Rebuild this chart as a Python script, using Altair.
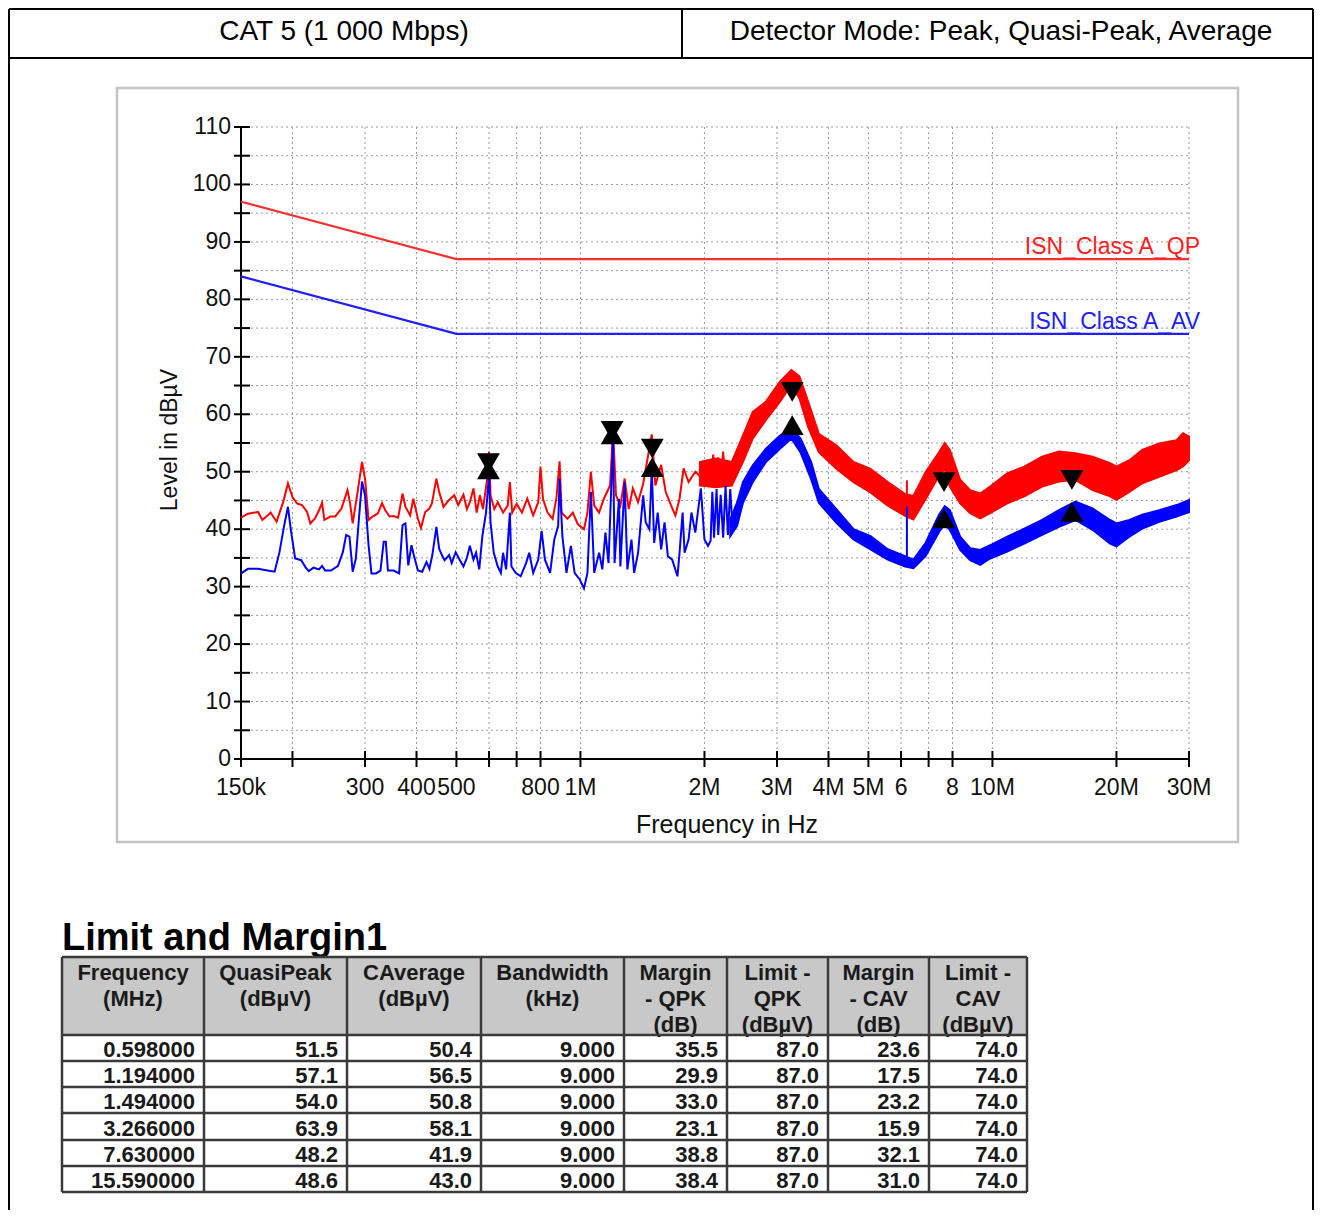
import altair as alt
import pandas as pd

# ---------------- data ----------------
# spiky part of the peak (red) trace, frequency in MHz, level in dBµV
red_f = [0.150, 0.156, 0.165, 0.169, 0.174, 0.177, 0.183, 0.190, 0.195, 0.200, 0.205, 0.211, 0.217, 0.221,
         0.227, 0.232, 0.236, 0.239, 0.247, 0.254, 0.263, 0.272, 0.276, 0.280, 0.287, 0.295, 0.300, 0.306,
         0.313, 0.322, 0.330, 0.336, 0.344, 0.352, 0.361, 0.370, 0.376, 0.386, 0.393, 0.403, 0.410, 0.420,
         0.430, 0.436, 0.447, 0.454, 0.465, 0.480, 0.494, 0.505, 0.520, 0.530, 0.539, 0.550, 0.560, 0.570,
         0.580, 0.593, 0.600, 0.605, 0.618, 0.630, 0.649, 0.666, 0.674, 0.683, 0.700, 0.721, 0.743, 0.768,
         0.790, 0.800, 0.811, 0.832, 0.856, 0.874, 0.890, 0.900, 0.930, 0.958, 0.985, 1.02, 1.04, 1.06,
         1.08, 1.11, 1.14, 1.18, 1.20, 1.22, 1.25, 1.28, 1.31, 1.34, 1.38, 1.42, 1.49, 1.52, 1.57, 1.61,
         1.66, 1.70, 1.74, 1.78, 1.83, 1.90, 1.98, 2.04, 2.07, 2.10, 2.13, 2.16, 2.19, 2.22, 2.25, 2.28,
         2.31, 2.34, 2.40]
red_db = [42.0, 42.7, 43.0, 41.6, 42.4, 42.9, 41.3, 44.8, 48.0, 45.6, 44.5, 44.2, 43.0, 41.0,
          41.9, 43.3, 44.6, 41.6, 42.2, 42.2, 43.6, 46.8, 44.5, 41.0, 45.9, 51.7, 48.8, 41.6,
          42.2, 42.7, 44.5, 43.3, 42.2, 42.3, 42.0, 46.2, 43.9, 42.4, 45.3, 41.9, 40.2, 43.0,
          43.6, 44.5, 48.8, 46.5, 43.9, 45.1, 45.9, 44.2, 46.0, 43.5, 44.7, 47.1, 42.9, 45.9,
          43.5, 48.5, 53.5, 45.9, 43.5, 44.7, 42.9, 44.1, 48.2, 42.9, 44.4, 42.9, 45.3, 42.4,
          44.7, 50.9, 45.3, 42.9, 41.8, 45.3, 51.8, 42.9, 41.8, 42.9, 40.9, 40.0, 42.9, 50.0,
          44.1, 42.9, 45.3, 47.6, 57.1, 45.9, 44.1, 48.8, 43.5, 47.1, 44.7, 47.9, 56.5, 47.6, 51.2, 46.5,
          44.1, 42.4, 45.3, 50.6, 48.2, 50.0, 48.8, 50.6, 47.5, 53.0, 48.0, 52.5, 47.8, 53.5, 48.0, 52.0,
          47.5, 51.0, 50.5]

# spiky part of the average (blue) trace
blue_f = [0.150, 0.156, 0.165, 0.174, 0.181, 0.186, 0.191, 0.195, 0.198, 0.203, 0.210, 0.215, 0.219, 0.225,
          0.232, 0.236, 0.240, 0.248, 0.258, 0.265, 0.270, 0.275, 0.280, 0.285, 0.290, 0.295, 0.300, 0.306,
          0.311, 0.319, 0.327, 0.333, 0.337, 0.341, 0.352, 0.363, 0.370, 0.376, 0.382, 0.389, 0.394, 0.403,
          0.413, 0.423, 0.430, 0.437, 0.447, 0.454, 0.461, 0.468, 0.480, 0.487, 0.498, 0.507, 0.520, 0.530,
          0.539, 0.550, 0.558, 0.568, 0.578, 0.590, 0.600, 0.605, 0.616, 0.630, 0.641, 0.649, 0.660, 0.674,
          0.680, 0.696, 0.716, 0.738, 0.751, 0.768, 0.790, 0.805, 0.820, 0.844, 0.864, 0.883, 0.890, 0.904,
          0.925, 0.948, 0.968, 0.997, 1.02, 1.04, 1.06, 1.08, 1.11, 1.13, 1.15, 1.17, 1.20, 1.21, 1.24,
          1.25, 1.28, 1.30, 1.33, 1.35, 1.38, 1.42, 1.44, 1.47, 1.49, 1.51, 1.54, 1.57, 1.60, 1.63, 1.67,
          1.72, 1.74, 1.77, 1.79, 1.83, 1.86, 1.90, 1.96, 2.00, 2.04, 2.07, 2.09, 2.11, 2.14, 2.16, 2.19,
          2.22, 2.25, 2.28, 2.31, 2.34, 2.38]
blue_db = [32.3, 33.1, 33.1, 32.8, 32.6, 36.0, 40.7, 43.9, 40.1, 34.9, 34.6, 33.4, 32.7, 33.3,
           33.0, 33.6, 32.8, 32.8, 33.6, 36.0, 39.0, 38.7, 32.6, 34.9, 41.9, 48.3, 45.9, 37.2,
           32.3, 32.3, 32.8, 37.8, 37.8, 32.8, 32.8, 32.3, 40.7, 41.0, 33.7, 37.2, 35.5, 32.8,
           32.6, 34.3, 33.1, 35.5, 40.4, 36.6, 35.5, 34.6, 35.5, 34.1, 36.0, 34.9, 33.5, 35.0,
           37.1, 34.7, 35.9, 33.0, 38.8, 42.9, 49.5, 41.2, 35.9, 33.5, 32.4, 35.9, 33.0, 42.9,
           33.5, 32.4, 31.8, 34.1, 35.9, 32.4, 34.7, 39.7, 34.7, 32.4, 38.2, 40.6, 48.8, 38.8,
           32.4, 37.1, 32.4, 31.2, 29.7, 32.4, 46.5, 32.4, 35.9, 33.0, 39.4, 34.1, 56.2, 34.1, 45.3,
           33.5, 48.2, 33.0, 38.2, 32.4, 35.9, 45.9, 41.2, 40.0, 50.6, 37.6, 42.9, 36.5, 41.2, 35.3, 34.7,
           31.8, 35.9, 42.9, 35.9, 38.2, 42.9, 39.4, 47.1, 38.2, 37.1, 38.0, 46.5, 38.5, 47.0, 39.0, 46.0,
           38.5, 47.5, 39.0, 47.0, 40.0, 44.0]

# dense (noise band) part of the traces: lower and upper edge of the band
redband_f = [1.95, 2.13, 2.33, 2.48, 2.62, 2.82, 3.05, 3.25, 3.40, 3.57, 3.79, 4.18, 4.60, 5.06, 5.57,
             6.14, 6.43, 6.88, 7.42, 7.66, 7.88, 8.35, 8.83, 9.34, 9.87, 10.86, 11.95, 13.2, 14.5,
             15.9, 17.5, 19.3, 20.0, 21.5, 23.1, 25.4, 28.0, 29.0, 30.0]
redband_lo = [47.6, 47.3, 47.6, 51.7, 55.8, 59.0, 62.2, 65.1, 62.8, 57.8, 53.4, 50.5, 48.2, 46.4, 44.1,
              42.3, 41.7, 45.2, 49.3, 50.5, 47.4, 44.5, 42.8, 41.9, 42.8, 44.5, 45.7, 47.4, 48.3,
              48.6, 46.8, 45.7, 45.1, 46.5, 48.0, 49.1, 50.3, 50.9, 52.0]
redband_hi = [51.7, 52.3, 51.7, 56.3, 60.4, 62.2, 65.7, 67.7, 66.6, 62.2, 56.6, 54.6, 51.7, 50.5, 48.2,
              46.1, 45.8, 49.9, 53.4, 55.0, 53.8, 48.6, 46.8, 46.2, 47.4, 49.7, 50.9, 52.6, 53.5,
              53.2, 52.6, 51.5, 50.9, 52.0, 53.8, 54.9, 55.5, 56.7, 56.1]

blueband_f = [2.31, 2.40, 2.48, 2.62, 2.82, 3.05, 3.25, 3.42, 3.63, 3.79, 4.18, 4.60, 5.06, 5.57, 6.14,
              6.43, 6.88, 7.42, 7.66, 7.88, 8.35, 8.83, 9.34, 9.87, 10.86, 11.95, 13.2, 14.5, 15.9,
              17.5, 19.3, 20.0, 21.5, 23.1, 25.4, 28.0, 30.0]
blueband_lo = [38.8, 40.6, 44.6, 48.2, 51.7, 54.0, 55.8, 53.4, 48.7, 44.6, 41.1, 38.2, 36.5, 34.7, 33.5,
               33.2, 35.3, 39.5, 41.0, 39.9, 36.4, 34.6, 33.8, 34.9, 36.1, 37.5, 39.0, 40.4, 41.6,
               39.9, 37.5, 37.0, 38.7, 40.1, 41.3, 42.2, 43.0]
blueband_hi = [41.7, 44.6, 48.2, 51.1, 54.0, 56.3, 57.5, 55.8, 51.7, 47.0, 43.5, 40.0, 38.8, 36.5, 35.3,
               34.7, 37.6, 42.5, 44.0, 43.3, 38.7, 36.7, 36.4, 37.2, 38.7, 40.1, 41.6, 43.3, 44.8,
               43.6, 41.6, 41.0, 41.6, 42.5, 43.3, 44.2, 45.1]

# single spike near 6.2 MHz
spike_f = [6.2]
spike_red_lo = [43.0]
spike_red_hi = [48.5]
spike_blue_lo = [34.0]
spike_blue_hi = [44.0]

# limit lines
limit_f = [0.15, 0.5, 30]
limit_qp = [97, 87, 87]
limit_av = [84, 74, 74]
limit_names = ["ISN_Class A_QP", "ISN_Class A_AV"]

# final measurement (table + markers)
meas_freq = [0.598, 1.194, 1.494, 3.266, 7.63, 15.59]
meas_qp = [51.5, 57.1, 54.0, 63.9, 48.2, 48.6]
meas_cav = [50.4, 56.5, 50.8, 58.1, 41.9, 43.0]
meas_bw = [9.0, 9.0, 9.0, 9.0, 9.0, 9.0]
margin_qpk = [35.5, 29.9, 33.0, 23.1, 38.8, 38.4]
limit_qpk = [87.0, 87.0, 87.0, 87.0, 87.0, 87.0]
margin_cav = [23.6, 17.5, 23.2, 15.9, 32.1, 31.0]
limit_cav = [74.0, 74.0, 74.0, 74.0, 74.0, 74.0]

table_headers = ["Frequency\n(MHz)", "QuasiPeak\n(dBµV)", "CAverage\n(dBµV)", "Bandwidth\n(kHz)",
                 "Margin\n- QPK\n(dB)", "Limit -\nQPK\n(dBµV)", "Margin\n- CAV\n(dB)", "Limit -\nCAV\n(dBµV)"]
table_title = "Limit and Margin1"

# axes
grid_f = [0.2, 0.3, 0.4, 0.5, 0.6, 0.7, 0.8, 1, 2, 3, 4, 5, 6, 7, 8, 10, 20, 30]
grid_db = [5, 10, 15, 20, 25, 30, 35, 40, 45, 50, 55, 60, 65, 70, 75, 80, 85, 90, 95, 100, 105, 110]
xtick_f = [0.15, 0.2, 0.3, 0.4, 0.5, 0.6, 0.7, 0.8, 1, 2, 3, 4, 5, 6, 7, 8, 10, 20, 30]
xlabel_f = [0.15, 0.3, 0.4, 0.5, 0.8, 1, 2, 3, 4, 5, 6, 8, 10, 20, 30]
xlabel_txt = ["150k", "300", "400", "500", "800", "1M", "2M", "3M", "4M", "5M", "6", "8", "10M", "20M", "30M"]
ytick_db = [0, 5, 10, 15, 20, 25, 30, 35, 40, 45, 50, 55, 60, 65, 70, 75, 80, 85, 90, 95, 100, 105, 110]
ylabel_db = [0, 10, 20, 30, 40, 50, 60, 70, 80, 90, 100, 110]
x_title = "Frequency in Hz"
y_title = "Level in dBµV"
header_left = "CAT 5 (1 000 Mbps)"
header_right = "Detector Mode: Peak, Quasi-Peak, Average"

# ---------------- layout (pixels) ----------------
W, H = 1306, 1202
FONT = "Liberation Sans"
RED = "#ff0000"
BLUE = "#0000ff"
XS = alt.Scale(type="log", domain=[0.15, 30], range=[233, 1181], nice=False)
YS = alt.Scale(type="linear", domain=[0, 110], range=[751, 119], nice=False, zero=False)
col_edges = [54, 196, 339, 473, 616, 719, 820, 921, 1019]
row_edges = [949, 1027, 1053, 1079, 1105, 1132, 1158, 1184]
ROWS = alt.Scale(type="linear", domain=[0, 5], range=[1042, 1173], nice=False, zero=False)


def fx(field):
    return alt.X(f"{field}:Q", scale=XS, axis=None)


def fy(field):
    return alt.Y(f"{field}:Q", scale=YS, axis=None)


def px(field):
    return alt.X(f"{field}:Q", scale=None, axis=None)


def py(field):
    return alt.Y(f"{field}:Q", scale=None, axis=None)


one = pd.DataFrame({"a": [0]})
layers = []

# outer page box and header row
box = pd.DataFrame({"x": [1, 1, 1305, 1, 674], "x2": [1305, 1, 1305, 1305, 674],
                    "y": [1, 1, 1, 50, 1], "y2": [1, 1202, 1202, 50, 50]})
layers.append(alt.Chart(box).mark_rule(color="black", strokeWidth=2).encode(
    x=px("x"), x2="x2", y=py("y"), y2="y2"))
layers.append(alt.Chart(pd.DataFrame({"t": [header_left]})).mark_text(
    font=FONT, fontSize=28, color="black", align="center", baseline="middle").encode(
    x=alt.value(336), y=alt.value(24), text="t:N"))
layers.append(alt.Chart(pd.DataFrame({"t": [header_right]})).mark_text(
    font=FONT, fontSize=28, color="black", align="center", baseline="middle").encode(
    x=alt.value(993), y=alt.value(24), text="t:N"))

# chart frame
layers.append(alt.Chart(one).mark_rect(fill="white", stroke="#c4c4c4", strokeWidth=2.5).encode(
    x=alt.value(109), x2=alt.value(1230), y=alt.value(80), y2=alt.value(834)))

# grid
gv = pd.DataFrame({"f": grid_f, "lo": [0] * len(grid_f), "hi": [110] * len(grid_f)})
layers.append(alt.Chart(gv).mark_rule(color="#9a9a9a", strokeDash=[2, 3], strokeWidth=1).encode(
    x=fx("f"), y=fy("lo"), y2="hi:Q"))
gh = pd.DataFrame({"db": grid_db, "f0": [0.15] * len(grid_db), "f1": [30] * len(grid_db)})
layers.append(alt.Chart(gh).mark_rule(color="#9a9a9a", strokeDash=[2, 3], strokeWidth=1).encode(
    y=fy("db"), x=fx("f0"), x2="f1:Q"))

# axes lines, ticks, labels
layers.append(alt.Chart(pd.DataFrame({"f": [0.15], "lo": [0], "hi": [110]})).mark_rule(
    color="black", strokeWidth=2).encode(x=fx("f"), y=fy("lo"), y2="hi:Q"))
layers.append(alt.Chart(pd.DataFrame({"db": [0], "f0": [0.15], "f1": [30]})).mark_rule(
    color="black", strokeWidth=2).encode(y=fy("db"), x=fx("f0"), x2="f1:Q"))
layers.append(alt.Chart(pd.DataFrame({"db": ytick_db})).mark_rule(color="black", strokeWidth=2).encode(
    y=fy("db"), x=alt.value(226), x2=alt.value(242)))
layers.append(alt.Chart(pd.DataFrame({"f": xtick_f})).mark_rule(color="black", strokeWidth=2).encode(
    x=fx("f"), y=alt.value(743), y2=alt.value(759)))
layers.append(alt.Chart(pd.DataFrame({"db": ylabel_db})).mark_text(
    font=FONT, fontSize=23, color="#111111", align="right", baseline="middle").encode(
    y=fy("db"), x=alt.value(223), text=alt.Text("db:Q")))
layers.append(alt.Chart(pd.DataFrame({"f": xlabel_f, "t": xlabel_txt})).mark_text(
    font=FONT, fontSize=23, color="#111111", align="center", baseline="middle").encode(
    x=fx("f"), y=alt.value(780), text="t:N"))
layers.append(alt.Chart(pd.DataFrame({"t": [x_title]})).mark_text(
    font=FONT, fontSize=25, color="#111111", align="center", baseline="middle").encode(
    x=alt.value(719), y=alt.value(817), text="t:N"))
layers.append(alt.Chart(pd.DataFrame({"t": [y_title]})).mark_text(
    font=FONT, fontSize=23, color="#111111", align="center", baseline="middle", angle=270).encode(
    x=alt.value(162), y=alt.value(432), text="t:N"))

# limit lines
lim = pd.DataFrame({"f": limit_f, "qp": limit_qp, "av": limit_av})
layers.append(alt.Chart(lim).mark_line(color="#ff3030", strokeWidth=2.2).encode(x=fx("f"), y=fy("qp")))
layers.append(alt.Chart(lim).mark_line(color="#2020ff", strokeWidth=2.2).encode(x=fx("f"), y=fy("av")))
layers.append(alt.Chart(pd.DataFrame({"f": [30], "db": [limit_qp[-1]], "t": [limit_names[0]]})).mark_text(
    font=FONT, fontSize=23, color="#ff2020", align="right", baseline="alphabetic", dx=11, dy=-5).encode(
    x=fx("f"), y=fy("db"), text="t:N"))
layers.append(alt.Chart(pd.DataFrame({"f": [30], "db": [limit_av[-1]], "t": [limit_names[1]]})).mark_text(
    font=FONT, fontSize=23, color="#2020ff", align="right", baseline="alphabetic", dx=11, dy=-5).encode(
    x=fx("f"), y=fy("db"), text="t:N"))

# traces: red below blue
layers.append(alt.Chart(pd.DataFrame({"f": redband_f, "lo": redband_lo, "hi": redband_hi})).mark_area(
    color=RED, opacity=1, stroke=RED, strokeWidth=2).encode(x=fx("f"), y=fy("lo"), y2="hi:Q"))
layers.append(alt.Chart(pd.DataFrame({"f": red_f, "db": red_db})).mark_line(
    color=RED, strokeWidth=2).encode(x=fx("f"), y=fy("db")))
layers.append(alt.Chart(pd.DataFrame({"f": spike_f, "lo": spike_red_lo, "hi": spike_red_hi})).mark_rule(
    color=RED, strokeWidth=2).encode(x=fx("f"), y=fy("lo"), y2="hi:Q"))
layers.append(alt.Chart(pd.DataFrame({"f": blueband_f, "lo": blueband_lo, "hi": blueband_hi})).mark_area(
    color=BLUE, opacity=1, stroke=BLUE, strokeWidth=2).encode(x=fx("f"), y=fy("lo"), y2="hi:Q"))
layers.append(alt.Chart(pd.DataFrame({"f": blue_f, "db": blue_db})).mark_line(
    color=BLUE, strokeWidth=2).encode(x=fx("f"), y=fy("db")))
layers.append(alt.Chart(pd.DataFrame({"f": spike_f, "lo": spike_blue_lo, "hi": spike_blue_hi})).mark_rule(
    color=BLUE, strokeWidth=2).encode(x=fx("f"), y=fy("lo"), y2="hi:Q"))

# markers
mk = pd.DataFrame({"f": meas_freq, "qp": meas_qp, "av": meas_cav})
layers.append(alt.Chart(mk).mark_point(shape="triangle-down", filled=True, size=520, color="black",
                                       opacity=1).encode(x=fx("f"), y=fy("qp")))
layers.append(alt.Chart(mk).mark_point(shape="triangle-up", filled=True, size=520, color="black",
                                       opacity=1).encode(x=fx("f"), y=fy("av")))

# ---------------- table ----------------
layers.append(alt.Chart(pd.DataFrame({"t": [table_title]})).mark_text(
    font=FONT, fontSize=38, fontWeight="bold", color="black", align="left", baseline="alphabetic").encode(
    x=alt.value(54), y=alt.value(942), text="t:N"))
layers.append(alt.Chart(one).mark_rect(fill="#c8c8c8").encode(
    x=alt.value(col_edges[0]), x2=alt.value(col_edges[-1]), y=alt.value(row_edges[0]), y2=alt.value(row_edges[1])))
hdr = pd.DataFrame({"t": table_headers,
                    "x": [(a + b) / 2 for a, b in zip(col_edges[:-1], col_edges[1:])]})
layers.append(alt.Chart(hdr).mark_text(
    font=FONT, fontSize=22, fontWeight="bold", color="#1a1a1a", align="center", baseline="alphabetic",
    lineBreak="\n", lineHeight=26).encode(x=px("x"), y=alt.value(972), text="t:N"))

tbl = pd.DataFrame({"row": list(range(6)), "freq": meas_freq, "qp": meas_qp, "cav": meas_cav,
                    "bw": meas_bw, "mq": margin_qpk, "lq": limit_qpk, "mc": margin_cav, "lc": limit_cav})
cols = [("freq", ".6f"), ("qp", ".1f"), ("cav", ".1f"), ("bw", ".3f"),
        ("mq", ".1f"), ("lq", ".1f"), ("mc", ".1f"), ("lc", ".1f")]
for i, (c, fmt) in enumerate(cols):
    layers.append(alt.Chart(tbl).mark_text(
        font=FONT, fontSize=22, fontWeight="bold", color="#1a1a1a", align="right", baseline="middle").encode(
        x=alt.value(col_edges[i + 1] - 9), y=alt.Y("row:Q", scale=ROWS, axis=None),
        text=alt.Text(f"{c}:Q", format=fmt)))

hl = pd.DataFrame({"y": row_edges, "x": [col_edges[0]] * len(row_edges), "x2": [col_edges[-1]] * len(row_edges)})
layers.append(alt.Chart(hl).mark_rule(color="#3a3a3a", strokeWidth=2.5).encode(y=py("y"), x=px("x"), x2="x2:Q"))
vl = pd.DataFrame({"x": col_edges, "y": [row_edges[0]] * len(col_edges), "y2": [row_edges[-1]] * len(col_edges)})
layers.append(alt.Chart(vl).mark_rule(color="#3a3a3a", strokeWidth=2.5).encode(x=px("x"), y=py("y"), y2="y2:Q"))

chart = alt.layer(*layers).resolve_scale(x="independent", y="independent").properties(
    width=W, height=H, padding=0, autosize=alt.AutoSizeParams(type="none")
).configure_view(strokeWidth=0)

chart.save("out.html", embed_options={"renderer": "svg", "actions": False})
